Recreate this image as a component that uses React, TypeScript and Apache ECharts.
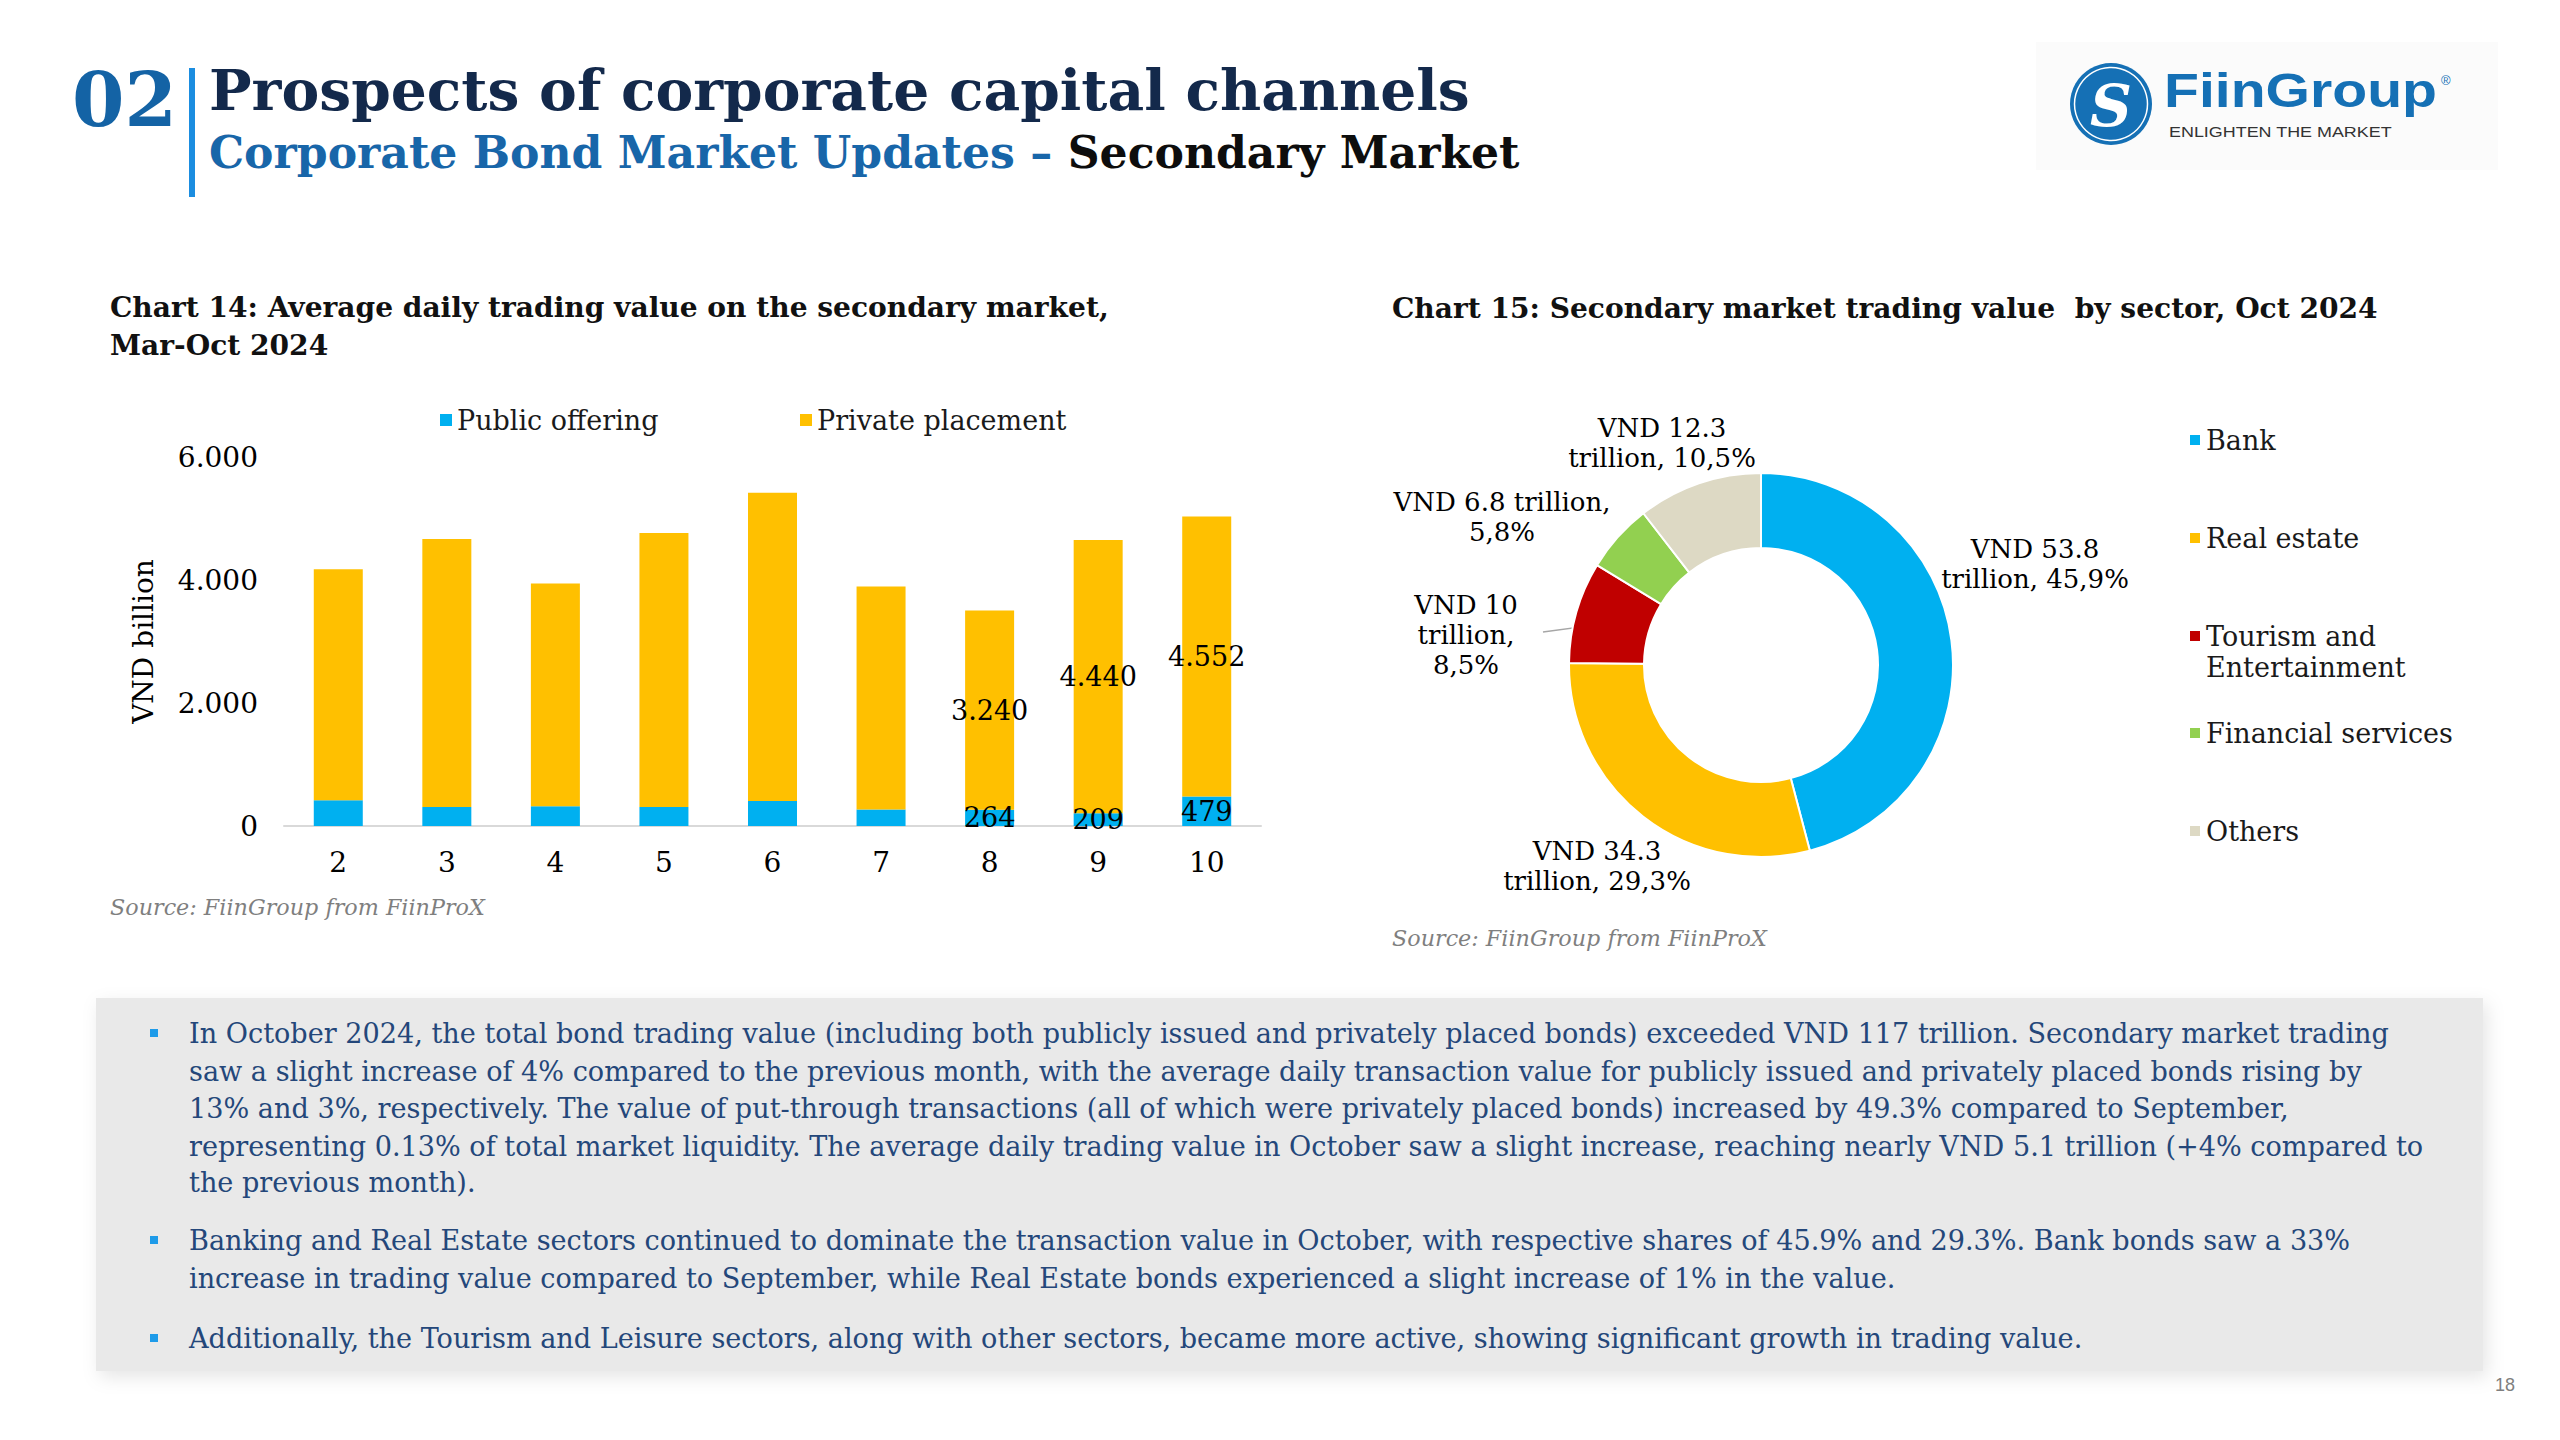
import React, { useEffect, useRef } from 'react';
import * as echarts from 'echarts';

const SERIF = '"DejaVu Serif", "Liberation Serif", serif';
const SANS = '"Liberation Sans", Arial, sans-serif';

// ---- Chart 14 data ----
const months = ['2', '3', '4', '5', '6', '7', '8', '9', '10'];
const publicOffering = [419, 310, 321, 310, 408, 267, 264, 209, 479];
const privatePlacement = [3757, 4356, 3621, 4454, 5010, 3626, 3240, 4440, 4552];
const labeledMonths = ['8', '9', '10'];
const yMin = 0;
const yMax = 6000;
const yInterval = 2000;

// ---- Chart 15 data ----
const sectors = ['Bank', 'Real estate', 'Tourism and Entertainment', 'Financial services', 'Others'];
const sectorValues = [53.8, 34.3, 10, 6.8, 12.3];

// ---- texts ----
const paragraphs: string[][] = [
  [
    'In October 2024, the total bond trading value (including both publicly issued and privately placed bonds) exceeded VND 117 trillion. Secondary market trading',
    'saw a slight increase of 4% compared to the previous month, with the average daily transaction value for publicly issued and privately placed bonds rising by',
    '13% and 3%, respectively. The value of put-through transactions (all of which were privately placed bonds) increased by 49.3% compared to September,',
    'representing 0.13% of total market liquidity. The average daily trading value in October saw a slight increase, reaching nearly VND 5.1 trillion (+4% compared to',
    'the previous month).',
  ],
  [
    'Banking and Real Estate sectors continued to dominate the transaction value in October, with respective shares of 45.9% and 29.3%. Bank bonds saw a 33%',
    'increase in trading value compared to September, while Real Estate bonds experienced a slight increase of 1% in the value.',
  ],
  ['Additionally, the Tourism and Leisure sectors, along with other sectors, became more active, showing significant growth in trading value.'],
];

// ---- styling / layout ----
const sectorColors = ['#00B0F0', '#FFC000', '#C00000', '#92D050', '#DDD9C4'];
const PIE_CX = 1761;
const PIE_CY = 665;
const pieLabelOffsets = [
  [274, -101],
  [-164, 201],
  [-295, -30],
  [-259, -148],
  [-99, -222],
];
const pieLabelSeps = [
  ['\n', ' '],
  ['\n', ' '],
  ['\n', '\n'],
  [' ', '\n'],
  ['\n', ' '],
];
const pieLegendY = [440, 538, 636, 733, 831];
const paraLineY = [[1033, 1071, 1108, 1146, 1182], [1240, 1278], [1338]];

let measureCtx: CanvasRenderingContext2D | null = null;
function measure(text: string, font: string): number {
  if (!measureCtx) measureCtx = document.createElement('canvas').getContext('2d');
  measureCtx!.font = font;
  return measureCtx!.measureText(text).width;
}
function fitSize(text: string, target: number, family: string, weight = 'normal', style = 'normal') {
  return (100 * target) / measure(text, `${style} ${weight} 100px ${family}`);
}

type TOpts = { family?: string; weight?: string; style?: string; fill?: string; align?: string; scaleX?: number };
function txt(text: string, x: number, cy: number, size: number, o: TOpts = {}) {
  const align = o.align ?? 'left';
  return {
    type: 'text',
    x,
    y: cy,
    scaleX: o.scaleX ?? 1,
    z: 10,
    silent: true,
    style: {
      text,
      fontSize: size,
      fontFamily: o.family ?? SERIF,
      fontWeight: o.weight ?? 'normal',
      fontStyle: o.style ?? 'normal',
      fill: o.fill ?? '#000',
      align,
      verticalAlign: 'middle',
      textAlign: align,
      textVerticalAlign: 'middle',
    },
  };
}
const fromBaseline = (baseline: number, size: number) => baseline - 0.35 * size;
const dotThousands = (v: number) => String(v).replace(/\B(?=(\d{3})+(?!\d))/g, '.');

function buildOption() {
  const graphics: any[] = [];

  // logo box
  graphics.push({ type: 'rect', shape: { x: 2036, y: 42, width: 462, height: 128 }, style: { fill: '#FBFBFB' }, z: 1, silent: true });
  graphics.push({ type: 'circle', shape: { cx: 2111, cy: 104, r: 41 }, style: { fill: '#1570B5' }, z: 5, silent: true });
  graphics.push({ type: 'circle', shape: { cx: 2111, cy: 104, r: 36.5 }, style: { fill: 'none', stroke: '#FFFFFF', lineWidth: 1.5 }, z: 6, silent: true });
  graphics.push(txt('S', 2111, 106, 58, { weight: 'bold', style: 'italic', fill: '#FFFFFF', align: 'center' }));
  const fgSize = 48;
  const fgScale = 273 / measure('FiinGroup', `normal bold ${fgSize}px ${SANS}`);
  graphics.push(txt('FiinGroup', 2164, fromBaseline(107, fgSize), fgSize, { family: SANS, weight: 'bold', fill: '#1570B5', scaleX: fgScale }));
  graphics.push(txt('®', 2441, 80, 13, { family: SANS, fill: '#1570B5' }));
  const etSize = 15.5;
  const etScale = 223 / measure('ENLIGHTEN THE MARKET', `normal normal ${etSize}px ${SANS}`);
  graphics.push(txt('ENLIGHTEN THE MARKET', 2169, 132, etSize, { family: SANS, fill: '#333333', scaleX: etScale }));

  // page title
  const s02 = fitSize('02', 105, SERIF, 'bold');
  graphics.push(txt('02', 72, fromBaseline(126, s02), s02, { weight: 'bold', fill: '#1463A5' }));
  graphics.push({ type: 'rect', shape: { x: 189, y: 68, width: 6, height: 129 }, style: { fill: '#1B8DE0' }, z: 5, silent: true });
  const titleText = 'Prospects of corporate capital channels';
  const sTitle = fitSize(titleText, 1261, SERIF, 'bold');
  graphics.push(txt(titleText, 209, fromBaseline(110, sTitle), sTitle, { weight: 'bold', fill: '#13294B' }));
  const subA = 'Corporate Bond Market Updates – ';
  const subB = 'Secondary Market';
  const sSub = fitSize(subA + subB, 1311, SERIF, 'bold');
  const subAW = measure(subA, `normal bold ${sSub}px ${SERIF}`);
  graphics.push(txt(subA, 209, fromBaseline(168, sSub), sSub, { weight: 'bold', fill: '#1866A9' }));
  graphics.push(txt(subB, 209 + subAW, fromBaseline(168, sSub), sSub, { weight: 'bold', fill: '#0D0D0D' }));

  // chart titles
  const c14a = 'Chart 14: Average daily trading value on the secondary market,';
  const c15 = 'Chart 15: Secondary market trading value  by sector, Oct 2024';
  const sC = (fitSize(c14a, 1000, SERIF, 'bold') + fitSize(c15, 985, SERIF, 'bold')) / 2;
  graphics.push(txt(c14a, 110, fromBaseline(317, sC), sC, { weight: 'bold', fill: '#111111' }));
  graphics.push(txt('Mar-Oct 2024', 110, fromBaseline(355, sC), sC, { weight: 'bold', fill: '#111111' }));
  graphics.push(txt(c15, 1392, fromBaseline(318, sC), sC, { weight: 'bold', fill: '#111111' }));

  // sources
  const src = 'Source: FiinGroup from FiinProX';
  const sSrc = fitSize(src, 375, SERIF, 'normal', 'italic');
  graphics.push(txt(src, 110, 907, sSrc, { style: 'italic', fill: '#7F7F7F' }));
  graphics.push(txt(src, 1392, 938, sSrc, { style: 'italic', fill: '#7F7F7F' }));

  // commentary box
  graphics.push({
    type: 'rect',
    shape: { x: 96, y: 998, width: 2387, height: 373 },
    style: { fill: '#E9E9E9', shadowBlur: 18, shadowColor: 'rgba(0,0,0,0.10)', shadowOffsetY: 6, shadowOffsetX: 4 },
    z: 1,
    silent: true,
  });
  const sPara = fitSize(paragraphs[0][0], 2201, SERIF);
  paragraphs.forEach((lines, pi) => {
    graphics.push({ type: 'rect', shape: { x: 150, y: paraLineY[pi][0] - 4, width: 8, height: 8 }, style: { fill: '#1E9BE9' }, z: 5, silent: true });
    lines.forEach((line, li) => {
      graphics.push(txt(line, 189, paraLineY[pi][li], sPara, { fill: '#24477A' }));
    });
  });

  // page number
  graphics.push(txt('18', 2495, 1385, 18, { family: SANS, fill: '#7F7F7F' }));

  const legendCommon = {
    orient: 'horizontal',
    icon: 'rect',
    itemWidth: 12,
    itemHeight: 12,
    itemGap: 10,
    padding: 0,
    selectedMode: false,
    textStyle: { fontSize: 27, lineHeight: 31, color: '#1A1A1A', fontFamily: SERIF },
  };

  const legends: any[] = [
    { ...legendCommon, data: ['Public offering'], left: 440, top: 420 - 15.5 },
    { ...legendCommon, data: ['Private placement'], left: 800, top: 420 - 15.5 },
    ...sectors.map((s, i) => {
      const twoLine = s.includes(' and ');
      return {
        ...legendCommon,
        data: [s],
        left: 2188,
        top: pieLegendY[i] - (twoLine ? 46.5 : 15.5),
        // wrapped name: an empty first line keeps the swatch level with "Tourism and"
        formatter: (n: string) => (n.includes(' and ') ? '\n' + n.replace(' and ', ' and\n') : n),
      };
    }),
  ];

  const total = sectorValues.reduce((a, b) => a + b, 0);
  const cumBefore = sectorValues.map((_, i) => sectorValues.slice(0, i).reduce((a, b) => a + b, 0));

  const barLabel = {
    position: 'inside',
    color: '#000',
    fontSize: 27,
    fontFamily: SERIF,
    formatter: (p: any) => dotThousands(p.value),
  };

  return {
    animation: false,
    backgroundColor: '#FFFFFF',
    textStyle: { fontFamily: SERIF },
    legend: legends,
    grid: { left: 284, top: 457, width: 977, height: 369, containLabel: false },
    xAxis: {
      type: 'category',
      data: months,
      axisLine: { lineStyle: { color: '#D9D9D9', width: 2 } },
      axisTick: { show: false },
      axisLabel: { fontSize: 28, color: '#000', margin: 22, fontFamily: SERIF },
    },
    yAxis: {
      type: 'value',
      min: yMin,
      max: yMax,
      interval: yInterval,
      axisLine: { show: false },
      axisTick: { show: false },
      splitLine: { show: false },
      axisLabel: { fontSize: 28, color: '#000', margin: 26, fontFamily: SERIF, formatter: (v: number) => dotThousands(v) },
      name: 'VND billion',
      nameLocation: 'middle',
      nameGap: 127,
      nameTextStyle: { fontSize: 28, color: '#000', fontFamily: SERIF },
    },
    series: [
      {
        name: 'Public offering',
        type: 'bar',
        stack: 'total',
        barWidth: 49,
        itemStyle: { color: '#00B0F0' },
        label: { ...barLabel, show: false },
        data: months.map((m, i) => ({ value: publicOffering[i], label: { show: labeledMonths.includes(m) } })),
      },
      {
        name: 'Private placement',
        type: 'bar',
        stack: 'total',
        barWidth: 49,
        itemStyle: { color: '#FFC000' },
        label: { ...barLabel, show: false },
        data: months.map((m, i) => ({ value: privatePlacement[i], label: { show: labeledMonths.includes(m) } })),
      },
      {
        name: 'Sector',
        type: 'pie',
        center: [PIE_CX, PIE_CY],
        radius: [117, 192],
        startAngle: 90,
        clockwise: true,
        avoidLabelOverlap: false,
        percentPrecision: 1,
        itemStyle: { borderColor: '#FFFFFF', borderWidth: 2 },
        label: {
          show: true,
          position: 'outside',
          fontSize: 26,
          lineHeight: 30,
          color: '#000',
          fontFamily: SERIF,
          formatter: (p: any) => {
            const s = pieLabelSeps[p.dataIndex];
            const pct = Number(p.percent).toFixed(1).replace('.', ',');
            return `VND ${p.value}${s[0]}trillion,${s[1]}${pct}%`;
          },
        },
        labelLine: { show: false },
        labelLayout: (params: any) => {
          const i = params.dataIndex;
          const lx = PIE_CX + pieLabelOffsets[i][0];
          const ly = PIE_CY + pieLabelOffsets[i][1];
          const res: any = { x: lx, y: ly, align: 'center', verticalAlign: 'middle' };
          if (sectors[i].includes(' and ')) {
            const mid = (cumBefore[i] + sectorValues[i] / 2) / total;
            const th = mid * 2 * Math.PI;
            const r = 154;
            res.labelLinePoints = [
              [PIE_CX + r * Math.sin(th), PIE_CY - r * Math.cos(th)],
              [lx + 77, ly - 3],
              [lx + 77, ly - 3],
            ];
          }
          return res;
        },
        data: sectors.map((s, i) => ({
          name: s,
          value: sectorValues[i],
          itemStyle: { color: sectorColors[i] },
          labelLine: s.includes(' and ') ? { show: true, length: 10, length2: 10, lineStyle: { color: '#A6A6A6', width: 1.5 } } : { show: false },
        })),
      },
    ],
    graphic: { elements: graphics },
  };
}

export default function App() {
  const ref = useRef<HTMLDivElement>(null);
  useEffect(() => {
    if (!ref.current) return;
    const chart = echarts.init(ref.current, undefined, { renderer: 'svg' });
    chart.setOption(buildOption() as any);
    return () => chart.dispose();
  }, []);
  return <div ref={ref} style={{ position: 'fixed', left: 0, top: 0, width: 2560, height: 1440, background: '#fff' }} />;
}
